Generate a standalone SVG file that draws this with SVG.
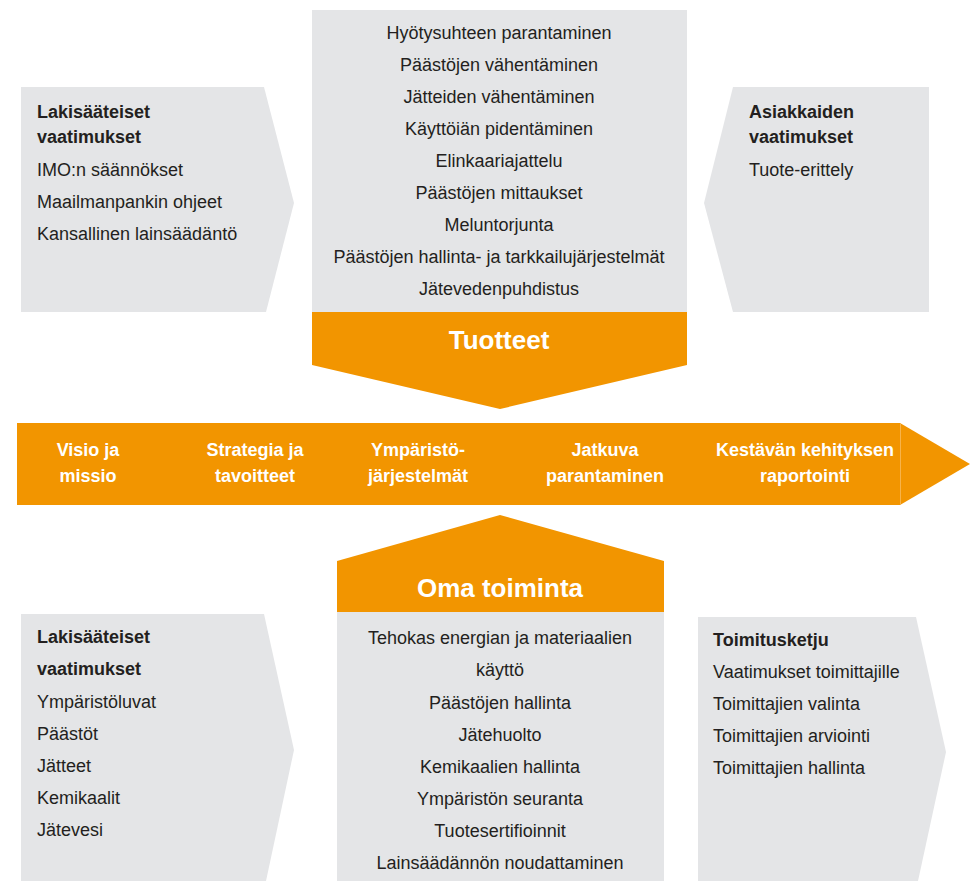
<svg xmlns="http://www.w3.org/2000/svg" width="977" height="881" viewBox="0 0 977 881">
<style>
.g{fill:#e4e5e7}
.o{fill:#f29500}
.t{font-family:"Liberation Sans",Arial,sans-serif;font-size:18px;fill:#231f20}
.b{font-weight:bold}
.c{text-anchor:middle}
.w{font-family:"Liberation Sans",Arial,sans-serif;font-weight:bold;fill:#ffffff;text-anchor:middle}
</style>
<rect width="977" height="881" fill="#ffffff"/>
<g id="legal-top">
<polygon class="g" points="21,87 264,87 294,203 266,312 21,312"/>
<text class="t b" x="37" y="118">Lakisääteiset</text>
<text class="t b" x="37" y="143">vaatimukset</text>
<text class="t" x="37" y="176">IMO:n säännökset</text>
<text class="t" x="37" y="208">Maailmanpankin ohjeet</text>
<text class="t" x="37" y="240">Kansallinen lainsäädäntö</text>
</g>
<g id="products">
<rect class="g" x="312" y="10" width="375" height="302"/>
<polygon class="o" points="312,312 687,312 687,365 500,409 312,365"/>
<text class="t c" x="499" y="39">Hyötysuhteen parantaminen</text>
<text class="t c" x="499" y="71">Päästöjen vähentäminen</text>
<text class="t c" x="499" y="103">Jätteiden vähentäminen</text>
<text class="t c" x="499" y="135">Käyttöiän pidentäminen</text>
<text class="t c" x="499" y="167">Elinkaariajattelu</text>
<text class="t c" x="499" y="199">Päästöjen mittaukset</text>
<text class="t c" x="499" y="231">Meluntorjunta</text>
<text class="t c" x="499" y="263">Päästöjen hallinta- ja tarkkailujärjestelmät</text>
<text class="t c" x="499" y="295">Jätevedenpuhdistus</text>
<text class="w" x="499" y="349" font-size="26">Tuotteet</text>
</g>
<g id="customer">
<polygon class="g" points="733,87 929,87 929,312 733,312 704,203"/>
<text class="t b" x="749" y="118">Asiakkaiden</text>
<text class="t b" x="749" y="143">vaatimukset</text>
<text class="t" x="749" y="176">Tuote-erittely</text>
</g>
<g id="band">
<polygon class="o" points="17,423 900,423 970,464 900,505 17,505"/>
<line x1="900.5" y1="423" x2="900.5" y2="505" stroke="#f7b34a" stroke-width="1"/>
<text class="w" font-size="18" x="88" y="456">Visio ja</text>
<text class="w" font-size="18" x="88" y="482">missio</text>
<text class="w" font-size="18" x="255" y="456">Strategia ja</text>
<text class="w" font-size="18" x="255" y="482">tavoitteet</text>
<text class="w" font-size="18" x="418" y="456">Ympäristö-</text>
<text class="w" font-size="18" x="418" y="482">järjestelmät</text>
<text class="w" font-size="18" x="605" y="456">Jatkuva</text>
<text class="w" font-size="18" x="605" y="482">parantaminen</text>
<text class="w" font-size="18" x="805" y="456">Kestävän kehityksen</text>
<text class="w" font-size="18" x="805" y="482">raportointi</text>
</g>
<g id="operations">
<polygon class="o" points="337,561 500,515 664,561 664,612 337,612"/>
<rect class="g" x="337" y="612" width="327" height="269"/>
<text class="w" x="500" y="597" font-size="26">Oma toiminta</text>
<text class="t c" x="500" y="644">Tehokas energian ja materiaalien</text>
<text class="t c" x="500" y="676">käyttö</text>
<text class="t c" x="500" y="709">Päästöjen hallinta</text>
<text class="t c" x="500" y="741">Jätehuolto</text>
<text class="t c" x="500" y="773">Kemikaalien hallinta</text>
<text class="t c" x="500" y="805">Ympäristön seuranta</text>
<text class="t c" x="500" y="837">Tuotesertifioinnit</text>
<text class="t c" x="500" y="869">Lainsäädännön noudattaminen</text>
</g>
<g id="legal-bottom">
<polygon class="g" points="21,614 264,614 294,750 266,881 21,881"/>
<text class="t b" x="37" y="643">Lakisääteiset</text>
<text class="t b" x="37" y="675">vaatimukset</text>
<text class="t" x="37" y="708">Ympäristöluvat</text>
<text class="t" x="37" y="740">Päästöt</text>
<text class="t" x="37" y="772">Jätteet</text>
<text class="t" x="37" y="804">Kemikaalit</text>
<text class="t" x="37" y="836">Jätevesi</text>
</g>
<g id="supply-chain">
<polygon class="g" points="698,617 916,617 946,752 918,881 698,881"/>
<text class="t b" x="713" y="646">Toimitusketju</text>
<text class="t" x="713" y="678">Vaatimukset toimittajille</text>
<text class="t" x="713" y="710">Toimittajien valinta</text>
<text class="t" x="713" y="742">Toimittajien arviointi</text>
<text class="t" x="713" y="774">Toimittajien hallinta</text>
</g>
<g id="connectors"></g>
</svg>
